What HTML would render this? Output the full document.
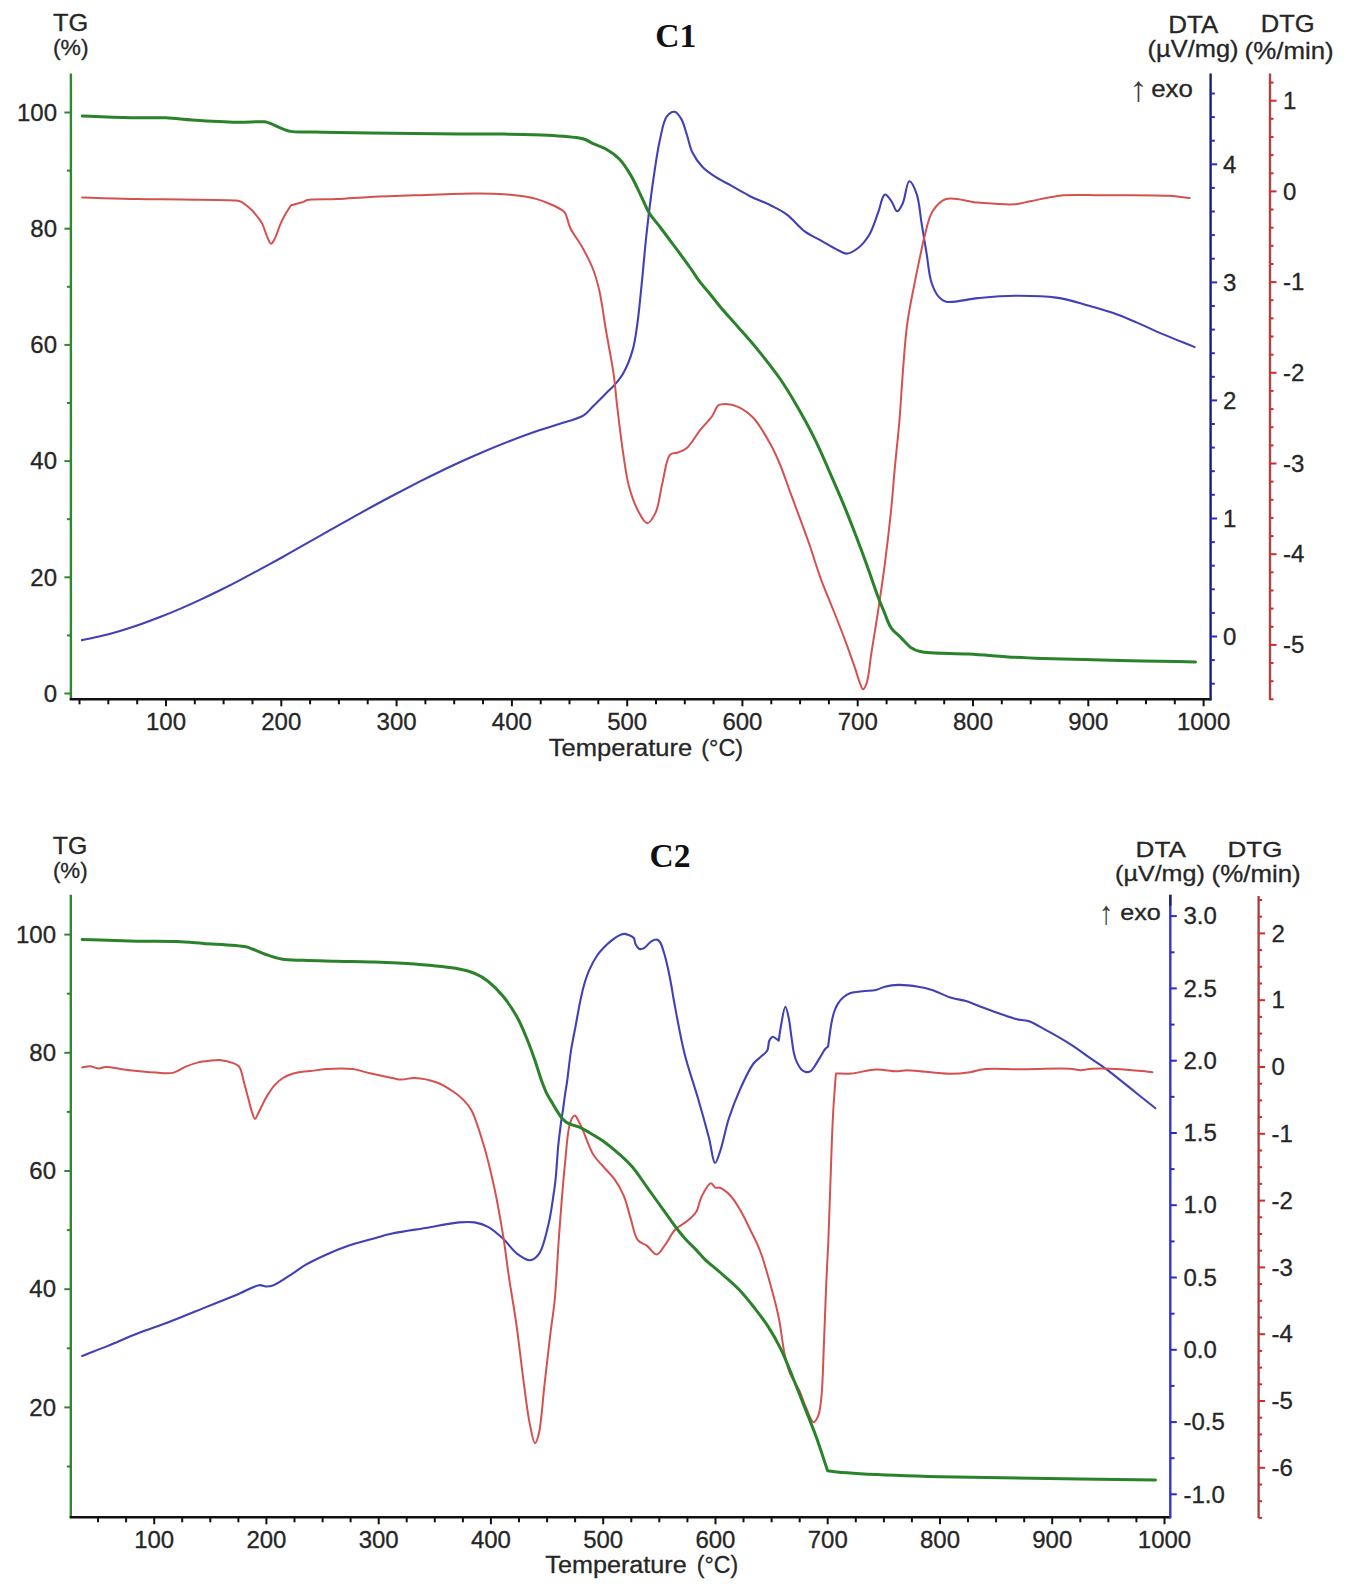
<!DOCTYPE html>
<html><head><meta charset="utf-8"><title>TG/DTA/DTG C1 C2</title>
<style>html,body{margin:0;padding:0;background:#fff;}svg{display:block;}</style></head>
<body><svg width="1348" height="1592" viewBox="0 0 1348 1592" font-family="'Liberation Sans', Arial, sans-serif">
<rect width="1348" height="1592" fill="#fff"/>
<line x1="70.9" y1="73.6" x2="70.9" y2="699.3" stroke="#318631" stroke-width="2.4"/>
<line x1="64.4" y1="693.5" x2="70.9" y2="693.5" stroke="#318631" stroke-width="2"/>
<text x="57.00" y="701.70" text-anchor="end" font-size="24.00" fill="#262626" stroke="#262626" stroke-width="0.30">0</text>
<line x1="66.9" y1="635.4" x2="70.9" y2="635.4" stroke="#318631" stroke-width="2"/>
<line x1="64.4" y1="577.3" x2="70.9" y2="577.3" stroke="#318631" stroke-width="2"/>
<text x="57.00" y="585.50" text-anchor="end" font-size="24.00" fill="#262626" stroke="#262626" stroke-width="0.30">20</text>
<line x1="66.9" y1="519.2" x2="70.9" y2="519.2" stroke="#318631" stroke-width="2"/>
<line x1="64.4" y1="461.1" x2="70.9" y2="461.1" stroke="#318631" stroke-width="2"/>
<text x="57.00" y="469.30" text-anchor="end" font-size="24.00" fill="#262626" stroke="#262626" stroke-width="0.30">40</text>
<line x1="66.9" y1="403.0" x2="70.9" y2="403.0" stroke="#318631" stroke-width="2"/>
<line x1="64.4" y1="344.9" x2="70.9" y2="344.9" stroke="#318631" stroke-width="2"/>
<text x="57.00" y="353.10" text-anchor="end" font-size="24.00" fill="#262626" stroke="#262626" stroke-width="0.30">60</text>
<line x1="66.9" y1="286.8" x2="70.9" y2="286.8" stroke="#318631" stroke-width="2"/>
<line x1="64.4" y1="228.7" x2="70.9" y2="228.7" stroke="#318631" stroke-width="2"/>
<text x="57.00" y="236.90" text-anchor="end" font-size="24.00" fill="#262626" stroke="#262626" stroke-width="0.30">80</text>
<line x1="66.9" y1="170.6" x2="70.9" y2="170.6" stroke="#318631" stroke-width="2"/>
<line x1="64.4" y1="112.5" x2="70.9" y2="112.5" stroke="#318631" stroke-width="2"/>
<text x="57.00" y="120.70" text-anchor="end" font-size="24.00" fill="#262626" stroke="#262626" stroke-width="0.30">100</text>
<line x1="69.7" y1="699.3" x2="1210.6" y2="699.3" stroke="#111" stroke-width="2.6"/>
<line x1="79.5" y1="699.3" x2="79.5" y2="704.3" stroke="#111" stroke-width="2"/>
<line x1="108.3" y1="699.3" x2="108.3" y2="704.3" stroke="#111" stroke-width="2"/>
<line x1="137.2" y1="699.3" x2="137.2" y2="704.3" stroke="#111" stroke-width="2"/>
<line x1="166.0" y1="699.3" x2="166.0" y2="706.3" stroke="#111" stroke-width="2"/>
<text x="165.99" y="730.00" text-anchor="middle" font-size="24.00" fill="#262626" stroke="#262626" stroke-width="0.30">100</text>
<line x1="194.8" y1="699.3" x2="194.8" y2="704.3" stroke="#111" stroke-width="2"/>
<line x1="223.6" y1="699.3" x2="223.6" y2="704.3" stroke="#111" stroke-width="2"/>
<line x1="252.5" y1="699.3" x2="252.5" y2="704.3" stroke="#111" stroke-width="2"/>
<line x1="281.3" y1="699.3" x2="281.3" y2="706.3" stroke="#111" stroke-width="2"/>
<text x="281.28" y="730.00" text-anchor="middle" font-size="24.00" fill="#262626" stroke="#262626" stroke-width="0.30">200</text>
<line x1="310.1" y1="699.3" x2="310.1" y2="704.3" stroke="#111" stroke-width="2"/>
<line x1="338.9" y1="699.3" x2="338.9" y2="704.3" stroke="#111" stroke-width="2"/>
<line x1="367.7" y1="699.3" x2="367.7" y2="704.3" stroke="#111" stroke-width="2"/>
<line x1="396.6" y1="699.3" x2="396.6" y2="706.3" stroke="#111" stroke-width="2"/>
<text x="396.57" y="730.00" text-anchor="middle" font-size="24.00" fill="#262626" stroke="#262626" stroke-width="0.30">300</text>
<line x1="425.4" y1="699.3" x2="425.4" y2="704.3" stroke="#111" stroke-width="2"/>
<line x1="454.2" y1="699.3" x2="454.2" y2="704.3" stroke="#111" stroke-width="2"/>
<line x1="483.0" y1="699.3" x2="483.0" y2="704.3" stroke="#111" stroke-width="2"/>
<line x1="511.9" y1="699.3" x2="511.9" y2="706.3" stroke="#111" stroke-width="2"/>
<text x="511.86" y="730.00" text-anchor="middle" font-size="24.00" fill="#262626" stroke="#262626" stroke-width="0.30">400</text>
<line x1="540.7" y1="699.3" x2="540.7" y2="704.3" stroke="#111" stroke-width="2"/>
<line x1="569.5" y1="699.3" x2="569.5" y2="704.3" stroke="#111" stroke-width="2"/>
<line x1="598.3" y1="699.3" x2="598.3" y2="704.3" stroke="#111" stroke-width="2"/>
<line x1="627.2" y1="699.3" x2="627.2" y2="706.3" stroke="#111" stroke-width="2"/>
<text x="627.15" y="730.00" text-anchor="middle" font-size="24.00" fill="#262626" stroke="#262626" stroke-width="0.30">500</text>
<line x1="656.0" y1="699.3" x2="656.0" y2="704.3" stroke="#111" stroke-width="2"/>
<line x1="684.8" y1="699.3" x2="684.8" y2="704.3" stroke="#111" stroke-width="2"/>
<line x1="713.6" y1="699.3" x2="713.6" y2="704.3" stroke="#111" stroke-width="2"/>
<line x1="742.4" y1="699.3" x2="742.4" y2="706.3" stroke="#111" stroke-width="2"/>
<text x="742.44" y="730.00" text-anchor="middle" font-size="24.00" fill="#262626" stroke="#262626" stroke-width="0.30">600</text>
<line x1="771.3" y1="699.3" x2="771.3" y2="704.3" stroke="#111" stroke-width="2"/>
<line x1="800.1" y1="699.3" x2="800.1" y2="704.3" stroke="#111" stroke-width="2"/>
<line x1="828.9" y1="699.3" x2="828.9" y2="704.3" stroke="#111" stroke-width="2"/>
<line x1="857.7" y1="699.3" x2="857.7" y2="706.3" stroke="#111" stroke-width="2"/>
<text x="857.73" y="730.00" text-anchor="middle" font-size="24.00" fill="#262626" stroke="#262626" stroke-width="0.30">700</text>
<line x1="886.6" y1="699.3" x2="886.6" y2="704.3" stroke="#111" stroke-width="2"/>
<line x1="915.4" y1="699.3" x2="915.4" y2="704.3" stroke="#111" stroke-width="2"/>
<line x1="944.2" y1="699.3" x2="944.2" y2="704.3" stroke="#111" stroke-width="2"/>
<line x1="973.0" y1="699.3" x2="973.0" y2="706.3" stroke="#111" stroke-width="2"/>
<text x="973.02" y="730.00" text-anchor="middle" font-size="24.00" fill="#262626" stroke="#262626" stroke-width="0.30">800</text>
<line x1="1001.8" y1="699.3" x2="1001.8" y2="704.3" stroke="#111" stroke-width="2"/>
<line x1="1030.7" y1="699.3" x2="1030.7" y2="704.3" stroke="#111" stroke-width="2"/>
<line x1="1059.5" y1="699.3" x2="1059.5" y2="704.3" stroke="#111" stroke-width="2"/>
<line x1="1088.3" y1="699.3" x2="1088.3" y2="706.3" stroke="#111" stroke-width="2"/>
<text x="1088.31" y="730.00" text-anchor="middle" font-size="24.00" fill="#262626" stroke="#262626" stroke-width="0.30">900</text>
<line x1="1117.1" y1="699.3" x2="1117.1" y2="704.3" stroke="#111" stroke-width="2"/>
<line x1="1146.0" y1="699.3" x2="1146.0" y2="704.3" stroke="#111" stroke-width="2"/>
<line x1="1174.8" y1="699.3" x2="1174.8" y2="704.3" stroke="#111" stroke-width="2"/>
<line x1="1203.6" y1="699.3" x2="1203.6" y2="706.3" stroke="#111" stroke-width="2"/>
<text x="1203.60" y="730.00" text-anchor="middle" font-size="24.00" fill="#262626" stroke="#262626" stroke-width="0.30">1000</text>
<text x="548.84" y="755.60" text-anchor="start" font-size="24.57" fill="#262626" stroke="#262626" stroke-width="0.30" textLength="143.4" lengthAdjust="spacingAndGlyphs">Temperature</text>
<text x="701.25" y="755.63" text-anchor="start" font-size="24.47" fill="#262626" stroke="#262626" stroke-width="0.30" textLength="41.8" lengthAdjust="spacingAndGlyphs">(°C)</text>
<line x1="1210.6" y1="73.6" x2="1210.6" y2="700.5" stroke="#1c1c7c" stroke-width="2.4"/>
<line x1="1210.6" y1="683.7" x2="1214.8" y2="683.7" stroke="#2a2ad0" stroke-width="2"/>
<line x1="1210.6" y1="660.1" x2="1214.8" y2="660.1" stroke="#2a2ad0" stroke-width="2"/>
<line x1="1210.6" y1="636.5" x2="1217.1" y2="636.5" stroke="#2a2ad0" stroke-width="2"/>
<text x="1223.00" y="644.70" text-anchor="start" font-size="24.00" fill="#262626" stroke="#262626" stroke-width="0.30">0</text>
<line x1="1210.6" y1="612.9" x2="1214.8" y2="612.9" stroke="#2a2ad0" stroke-width="2"/>
<line x1="1210.6" y1="589.3" x2="1214.8" y2="589.3" stroke="#2a2ad0" stroke-width="2"/>
<line x1="1210.6" y1="565.7" x2="1214.8" y2="565.7" stroke="#2a2ad0" stroke-width="2"/>
<line x1="1210.6" y1="542.1" x2="1214.8" y2="542.1" stroke="#2a2ad0" stroke-width="2"/>
<line x1="1210.6" y1="518.5" x2="1217.1" y2="518.5" stroke="#2a2ad0" stroke-width="2"/>
<text x="1223.00" y="526.65" text-anchor="start" font-size="24.00" fill="#262626" stroke="#262626" stroke-width="0.30">1</text>
<line x1="1210.6" y1="494.8" x2="1214.8" y2="494.8" stroke="#2a2ad0" stroke-width="2"/>
<line x1="1210.6" y1="471.2" x2="1214.8" y2="471.2" stroke="#2a2ad0" stroke-width="2"/>
<line x1="1210.6" y1="447.6" x2="1214.8" y2="447.6" stroke="#2a2ad0" stroke-width="2"/>
<line x1="1210.6" y1="424.0" x2="1214.8" y2="424.0" stroke="#2a2ad0" stroke-width="2"/>
<line x1="1210.6" y1="400.4" x2="1217.1" y2="400.4" stroke="#2a2ad0" stroke-width="2"/>
<text x="1223.00" y="408.60" text-anchor="start" font-size="24.00" fill="#262626" stroke="#262626" stroke-width="0.30">2</text>
<line x1="1210.6" y1="376.8" x2="1214.8" y2="376.8" stroke="#2a2ad0" stroke-width="2"/>
<line x1="1210.6" y1="353.2" x2="1214.8" y2="353.2" stroke="#2a2ad0" stroke-width="2"/>
<line x1="1210.6" y1="329.6" x2="1214.8" y2="329.6" stroke="#2a2ad0" stroke-width="2"/>
<line x1="1210.6" y1="306.0" x2="1214.8" y2="306.0" stroke="#2a2ad0" stroke-width="2"/>
<line x1="1210.6" y1="282.4" x2="1217.1" y2="282.4" stroke="#2a2ad0" stroke-width="2"/>
<text x="1223.00" y="290.55" text-anchor="start" font-size="24.00" fill="#262626" stroke="#262626" stroke-width="0.30">3</text>
<line x1="1210.6" y1="258.7" x2="1214.8" y2="258.7" stroke="#2a2ad0" stroke-width="2"/>
<line x1="1210.6" y1="235.1" x2="1214.8" y2="235.1" stroke="#2a2ad0" stroke-width="2"/>
<line x1="1210.6" y1="211.5" x2="1214.8" y2="211.5" stroke="#2a2ad0" stroke-width="2"/>
<line x1="1210.6" y1="187.9" x2="1214.8" y2="187.9" stroke="#2a2ad0" stroke-width="2"/>
<line x1="1210.6" y1="164.3" x2="1217.1" y2="164.3" stroke="#2a2ad0" stroke-width="2"/>
<text x="1223.00" y="172.50" text-anchor="start" font-size="24.00" fill="#262626" stroke="#262626" stroke-width="0.30">4</text>
<line x1="1210.6" y1="140.7" x2="1214.8" y2="140.7" stroke="#2a2ad0" stroke-width="2"/>
<line x1="1210.6" y1="117.1" x2="1214.8" y2="117.1" stroke="#2a2ad0" stroke-width="2"/>
<line x1="1210.6" y1="93.5" x2="1214.8" y2="93.5" stroke="#2a2ad0" stroke-width="2"/>
<line x1="1270.0" y1="73.6" x2="1270.0" y2="700.0" stroke="#a84646" stroke-width="2.4"/>
<line x1="1270.0" y1="82.6" x2="1273.5" y2="82.6" stroke="#d42a2a" stroke-width="2"/>
<line x1="1270.0" y1="100.7" x2="1276.5" y2="100.7" stroke="#d42a2a" stroke-width="2"/>
<text x="1283.00" y="108.90" text-anchor="start" font-size="24.00" fill="#262626" stroke="#262626" stroke-width="0.30">1</text>
<line x1="1270.0" y1="118.8" x2="1273.5" y2="118.8" stroke="#d42a2a" stroke-width="2"/>
<line x1="1270.0" y1="137.0" x2="1273.5" y2="137.0" stroke="#d42a2a" stroke-width="2"/>
<line x1="1270.0" y1="155.1" x2="1273.5" y2="155.1" stroke="#d42a2a" stroke-width="2"/>
<line x1="1270.0" y1="173.3" x2="1273.5" y2="173.3" stroke="#d42a2a" stroke-width="2"/>
<line x1="1270.0" y1="191.4" x2="1276.5" y2="191.4" stroke="#d42a2a" stroke-width="2"/>
<text x="1283.00" y="199.60" text-anchor="start" font-size="24.00" fill="#262626" stroke="#262626" stroke-width="0.30">0</text>
<line x1="1270.0" y1="209.5" x2="1273.5" y2="209.5" stroke="#d42a2a" stroke-width="2"/>
<line x1="1270.0" y1="227.7" x2="1273.5" y2="227.7" stroke="#d42a2a" stroke-width="2"/>
<line x1="1270.0" y1="245.8" x2="1273.5" y2="245.8" stroke="#d42a2a" stroke-width="2"/>
<line x1="1270.0" y1="264.0" x2="1273.5" y2="264.0" stroke="#d42a2a" stroke-width="2"/>
<line x1="1270.0" y1="282.1" x2="1276.5" y2="282.1" stroke="#d42a2a" stroke-width="2"/>
<text x="1283.00" y="290.30" text-anchor="start" font-size="24.00" fill="#262626" stroke="#262626" stroke-width="0.30">-1</text>
<line x1="1270.0" y1="300.2" x2="1273.5" y2="300.2" stroke="#d42a2a" stroke-width="2"/>
<line x1="1270.0" y1="318.4" x2="1273.5" y2="318.4" stroke="#d42a2a" stroke-width="2"/>
<line x1="1270.0" y1="336.5" x2="1273.5" y2="336.5" stroke="#d42a2a" stroke-width="2"/>
<line x1="1270.0" y1="354.7" x2="1273.5" y2="354.7" stroke="#d42a2a" stroke-width="2"/>
<line x1="1270.0" y1="372.8" x2="1276.5" y2="372.8" stroke="#d42a2a" stroke-width="2"/>
<text x="1283.00" y="381.00" text-anchor="start" font-size="24.00" fill="#262626" stroke="#262626" stroke-width="0.30">-2</text>
<line x1="1270.0" y1="390.9" x2="1273.5" y2="390.9" stroke="#d42a2a" stroke-width="2"/>
<line x1="1270.0" y1="409.1" x2="1273.5" y2="409.1" stroke="#d42a2a" stroke-width="2"/>
<line x1="1270.0" y1="427.2" x2="1273.5" y2="427.2" stroke="#d42a2a" stroke-width="2"/>
<line x1="1270.0" y1="445.4" x2="1273.5" y2="445.4" stroke="#d42a2a" stroke-width="2"/>
<line x1="1270.0" y1="463.5" x2="1276.5" y2="463.5" stroke="#d42a2a" stroke-width="2"/>
<text x="1283.00" y="471.70" text-anchor="start" font-size="24.00" fill="#262626" stroke="#262626" stroke-width="0.30">-3</text>
<line x1="1270.0" y1="481.6" x2="1273.5" y2="481.6" stroke="#d42a2a" stroke-width="2"/>
<line x1="1270.0" y1="499.8" x2="1273.5" y2="499.8" stroke="#d42a2a" stroke-width="2"/>
<line x1="1270.0" y1="517.9" x2="1273.5" y2="517.9" stroke="#d42a2a" stroke-width="2"/>
<line x1="1270.0" y1="536.1" x2="1273.5" y2="536.1" stroke="#d42a2a" stroke-width="2"/>
<line x1="1270.0" y1="554.2" x2="1276.5" y2="554.2" stroke="#d42a2a" stroke-width="2"/>
<text x="1283.00" y="562.40" text-anchor="start" font-size="24.00" fill="#262626" stroke="#262626" stroke-width="0.30">-4</text>
<line x1="1270.0" y1="572.3" x2="1273.5" y2="572.3" stroke="#d42a2a" stroke-width="2"/>
<line x1="1270.0" y1="590.5" x2="1273.5" y2="590.5" stroke="#d42a2a" stroke-width="2"/>
<line x1="1270.0" y1="608.6" x2="1273.5" y2="608.6" stroke="#d42a2a" stroke-width="2"/>
<line x1="1270.0" y1="626.8" x2="1273.5" y2="626.8" stroke="#d42a2a" stroke-width="2"/>
<line x1="1270.0" y1="644.9" x2="1276.5" y2="644.9" stroke="#d42a2a" stroke-width="2"/>
<text x="1283.00" y="653.10" text-anchor="start" font-size="24.00" fill="#262626" stroke="#262626" stroke-width="0.30">-5</text>
<line x1="1270.0" y1="663.0" x2="1273.5" y2="663.0" stroke="#d42a2a" stroke-width="2"/>
<line x1="1270.0" y1="681.2" x2="1273.5" y2="681.2" stroke="#d42a2a" stroke-width="2"/>
<line x1="1270.0" y1="699.3" x2="1273.5" y2="699.3" stroke="#d42a2a" stroke-width="2"/>
<text x="53.13" y="31.07" text-anchor="start" font-size="23.45" fill="#262626" stroke="#262626" stroke-width="0.30" textLength="35.2" lengthAdjust="spacingAndGlyphs">TG</text>
<text x="52.98" y="55.47" text-anchor="start" font-size="22.86" fill="#262626" stroke="#262626" stroke-width="0.30" textLength="35.6" lengthAdjust="spacingAndGlyphs">(%)</text>
<text x="1168.25" y="32.70" text-anchor="start" font-size="24.71" fill="#262626" stroke="#262626" stroke-width="0.30" textLength="50.0" lengthAdjust="spacingAndGlyphs">DTA</text>
<text x="1147.62" y="57.30" text-anchor="start" font-size="23.60" fill="#262626" stroke="#262626" stroke-width="0.30" textLength="90.9" lengthAdjust="spacingAndGlyphs">(µV/mg)</text>
<text x="1260.81" y="32.46" text-anchor="start" font-size="24.58" fill="#262626" stroke="#262626" stroke-width="0.30" textLength="53.9" lengthAdjust="spacingAndGlyphs">DTG</text>
<text x="1244.60" y="58.63" text-anchor="start" font-size="24.47" fill="#262626" stroke="#262626" stroke-width="0.30" textLength="89.1" lengthAdjust="spacingAndGlyphs">(%/min)</text>
<text x="1151.20" y="96.67" text-anchor="start" font-size="23.18" fill="#262626" stroke="#262626" stroke-width="0.30" textLength="41.7" lengthAdjust="spacingAndGlyphs">exo</text>
<text x="1129.33" y="100.95" font-size="35.15" fill="#3c3c3c" textLength="18.35" lengthAdjust="spacingAndGlyphs">↑</text>
<text x="655.36" y="46.87" font-family="'Liberation Serif', 'Times New Roman', serif" font-weight="bold" font-size="33.64" fill="#111" textLength="41.08" lengthAdjust="spacingAndGlyphs">C1</text>
<path d="M81.9,640.1 C87.9,638.8 93.8,637.8 100.0,636.3 C106.5,634.7 113.4,632.9 120.0,630.9 C126.7,628.9 133.4,626.8 140.0,624.5 C146.7,622.2 153.4,619.7 160.0,617.1 C166.7,614.5 173.4,611.8 180.0,608.9 C186.7,606.0 193.4,603.0 200.0,599.9 C206.7,596.8 213.4,593.6 220.0,590.3 C226.7,587.0 233.4,583.6 240.0,580.1 C246.7,576.6 253.3,573.0 260.0,569.4 C266.7,565.8 273.3,562.2 280.0,558.5 C286.7,554.8 292.7,551.4 300.0,547.2 C309.0,542.1 320.0,535.9 330.0,530.2 C340.0,524.6 350.0,518.8 360.0,513.3 C370.0,507.8 380.0,502.3 390.0,497.0 C400.0,491.7 410.0,486.5 420.0,481.4 C430.0,476.4 440.0,471.4 450.0,466.7 C460.0,462.0 470.0,457.5 480.0,453.2 C490.0,448.9 500.0,444.8 510.0,440.9 C520.0,437.1 531.1,433.0 540.0,430.0 C547.1,427.6 552.4,426.3 559.2,424.0 C566.9,421.4 577.8,418.9 583.7,415.3 C587.7,412.8 589.4,410.0 592.6,406.8 C596.6,402.9 601.9,397.5 605.9,393.5 C609.2,390.2 612.0,387.9 614.8,384.6 C617.9,381.0 621.0,377.3 623.7,372.4 C627.1,366.3 630.4,357.8 632.6,350.1 C634.9,342.2 635.8,334.6 637.1,325.6 C638.7,314.9 639.7,303.3 641.1,290.0 C642.9,273.1 644.6,251.2 646.7,232.4 C648.7,214.2 651.0,195.5 653.4,179.0 C655.5,164.7 657.5,150.3 660.1,139.0 C662.1,130.4 663.3,121.2 666.7,116.7 C668.8,113.9 672.1,111.5 674.5,111.8 C677.0,112.1 679.3,115.8 681.2,118.9 C683.7,122.9 685.0,129.1 686.8,134.5 C688.7,140.2 689.7,146.9 692.3,152.3 C694.9,157.6 698.5,162.8 702.3,166.8 C705.7,170.4 709.2,172.8 713.5,175.7 C718.6,179.1 725.4,182.4 731.3,185.7 C737.2,189.0 742.8,192.5 749.1,195.7 C756.0,199.2 764.6,202.3 771.3,205.7 C777.0,208.6 781.8,210.8 786.9,214.6 C792.9,219.0 798.7,226.9 804.7,231.3 C809.8,235.1 814.9,237.2 820.3,240.2 C826.0,243.4 833.1,247.9 838.1,250.2 C841.5,251.8 843.9,253.8 847.0,253.6 C850.5,253.4 854.6,250.7 858.1,248.0 C862.2,244.8 866.1,240.0 869.3,234.7 C873.0,228.5 875.5,219.4 878.2,212.4 C880.6,206.1 882.0,195.2 884.8,194.6 C886.8,194.2 889.5,198.7 891.5,201.3 C893.7,204.2 895.1,211.2 897.1,211.3 C898.9,211.4 901.0,206.9 902.7,203.5 C905.3,198.1 906.6,181.6 909.3,181.3 C911.5,181.0 914.8,188.7 916.7,194.1 C919.4,201.7 920.0,213.6 921.6,223.4 C923.2,233.2 924.9,243.0 926.5,252.8 C928.1,262.6 928.8,274.2 931.4,282.2 C933.3,288.1 935.8,293.5 938.8,296.9 C941.0,299.4 942.6,301.0 946.1,301.8 C952.8,303.4 966.9,299.1 977.9,298.1 C989.7,297.0 1002.0,295.8 1014.6,295.7 C1028.1,295.6 1043.4,295.7 1056.3,297.6 C1067.7,299.2 1078.2,302.7 1088.1,305.4 C1096.8,307.8 1104.5,310.0 1112.6,312.8 C1120.8,315.7 1128.9,319.2 1137.0,322.6 C1145.2,326.1 1152.7,329.8 1161.5,333.6 C1171.7,338.0 1183.6,342.6 1194.6,347.1" fill="none" stroke="#4040b8" stroke-width="2.1" stroke-linejoin="round" stroke-linecap="round"/>
<path d="M82.2,197.5 C100.4,198.0 119.5,198.8 136.8,199.1 C152.4,199.4 165.7,199.3 181.3,199.5 C198.7,199.8 227.9,199.5 236.3,200.6 C238.8,200.9 239.6,201.1 241.2,201.8 C243.0,202.6 244.7,204.1 246.5,205.5 C248.5,207.1 250.8,209.0 252.7,211.0 C254.6,213.0 256.4,215.3 258.0,217.5 C259.6,219.7 261.0,221.4 262.4,224.1 C264.2,227.6 265.6,233.5 267.3,237.1 C268.5,239.7 269.7,243.6 271.0,243.7 C272.2,243.8 273.5,241.0 274.7,238.8 C276.6,235.3 278.5,228.5 280.4,224.1 C282.0,220.5 283.5,217.5 285.3,214.3 C287.1,211.2 289.1,208.3 291.0,205.3 C293.5,204.6 296.1,204.0 298.4,203.3 C300.4,202.7 302.6,202.2 304.1,201.6 C305.1,201.2 305.2,200.6 306.5,200.2 C310.9,198.9 326.7,199.6 337.1,199.1 C347.9,198.6 358.2,197.6 370.0,197.0 C383.7,196.3 398.6,195.8 414.5,195.3 C433.0,194.7 458.2,193.5 474.6,193.5 C486.0,193.5 493.5,193.4 503.5,194.2 C514.3,195.1 526.6,196.1 536.9,199.1 C546.5,201.9 559.7,208.0 563.6,211.3 C565.0,212.5 565.1,213.1 565.9,214.6 C567.3,217.5 568.1,223.4 570.3,228.0 C572.9,233.7 577.8,239.5 581.4,245.8 C585.3,252.7 589.6,260.5 592.6,268.0 C595.5,275.2 597.2,281.5 599.2,290.0 C601.8,301.3 603.6,316.3 605.9,330.0 C608.4,344.5 611.8,361.0 613.7,374.6 C615.3,385.9 615.7,394.1 617.1,405.7 C618.9,420.7 621.4,442.3 623.7,456.9 C625.4,468.0 626.4,476.8 628.9,485.9 C631.2,494.5 634.3,503.7 637.8,510.3 C640.6,515.5 644.1,523.1 647.2,523.2 C650.0,523.3 653.3,517.3 655.6,512.6 C659.0,505.6 659.9,493.2 662.3,483.6 C664.7,473.9 665.9,458.9 670.1,454.7 C672.3,452.5 675.3,453.5 677.9,452.5 C680.8,451.4 683.8,450.5 686.8,448.0 C691.2,444.3 695.7,435.8 700.1,430.2 C704.2,425.1 709.3,420.2 712.4,415.7 C714.8,412.2 715.4,407.6 717.9,405.7 C720.0,404.1 722.8,404.0 725.7,404.0 C729.3,404.0 733.9,404.9 738.0,406.8 C743.1,409.1 748.6,412.8 753.5,418.0 C759.9,424.8 766.6,437.3 771.3,445.8 C775.0,452.5 777.2,457.7 780.0,464.5 C783.3,472.3 786.6,482.4 789.5,490.3 C792.0,496.9 793.7,501.5 796.3,508.6 C800.0,518.6 805.3,532.6 809.4,544.5 C813.4,556.0 816.7,567.6 820.8,578.8 C824.9,589.9 829.7,600.9 833.9,611.5 C837.9,621.5 841.7,631.2 845.3,640.9 C848.8,650.2 852.5,660.8 855.2,668.6 C857.1,674.3 858.4,679.5 860.0,683.3 C861.0,685.8 861.9,689.3 863.0,689.3 C864.1,689.3 865.5,686.2 866.6,683.3 C868.9,677.1 869.7,663.3 871.5,652.3 C873.5,639.6 875.9,625.5 878.0,611.5 C880.2,596.7 882.5,581.8 884.6,565.8 C886.9,548.2 889.4,526.9 891.1,510.2 C892.5,496.5 893.3,484.8 894.4,472.7 C895.4,461.4 896.7,449.1 897.6,440.0 C898.2,433.6 898.5,431.3 899.2,423.5 C900.9,404.6 903.6,351.9 906.9,326.3 C909.1,309.4 911.9,297.1 914.3,284.6 C916.3,274.4 918.2,265.2 920.0,256.9 C921.5,250.0 922.3,244.9 924.1,238.1 C926.3,229.9 928.2,218.0 932.6,211.2 C936.1,205.7 940.1,200.9 946.1,199.0 C954.1,196.4 966.9,201.7 977.9,202.6 C989.7,203.5 1004.7,205.0 1014.6,204.3 C1021.4,203.8 1025.2,202.1 1031.8,200.9 C1040.8,199.2 1052.6,196.3 1063.6,195.3 C1075.4,194.3 1086.2,195.2 1100.3,195.3 C1119.6,195.4 1152.7,194.9 1168.9,195.8 C1177.9,196.3 1182.8,197.3 1189.7,198.0" fill="none" stroke="#d65050" stroke-width="2.0" stroke-linejoin="round" stroke-linecap="round"/>
<path d="M82.2,116.0 C100.4,116.6 121.5,117.5 136.8,117.8 C148.0,118.0 156.3,117.4 165.7,117.8 C174.8,118.2 182.4,119.3 192.4,120.0 C205.3,120.9 223.8,122.1 236.9,122.3 C247.2,122.5 259.0,121.1 264.7,121.8 C267.3,122.1 267.9,122.6 270.3,123.4 C274.9,125.0 283.2,129.9 290.3,131.4 C297.9,132.9 306.8,131.7 314.8,131.9 C322.4,132.1 328.9,132.3 337.1,132.5 C347.0,132.7 357.1,132.8 370.0,133.0 C388.4,133.2 414.5,133.6 436.8,133.8 C459.0,134.0 483.5,133.8 503.5,134.1 C519.9,134.3 534.1,134.3 548.1,135.2 C560.7,136.0 575.9,136.7 583.7,139.0 C587.8,140.2 589.3,141.9 592.6,143.4 C596.6,145.2 601.6,146.5 605.9,149.0 C610.5,151.6 615.3,154.9 619.3,159.0 C623.6,163.4 626.9,168.8 630.4,174.6 C634.4,181.2 638.2,190.0 641.5,196.8 C644.2,202.4 645.9,207.4 648.9,212.4 C652.0,217.5 656.2,221.9 660.0,227.0 C664.2,232.5 668.4,238.2 673.0,244.4 C678.3,251.5 685.1,260.6 690.0,267.5 C693.9,272.9 696.6,277.6 700.1,282.2 C703.4,286.5 706.9,290.1 710.2,294.2 C713.6,298.3 716.8,302.7 720.2,306.8 C723.5,310.8 727.0,314.6 730.3,318.3 C733.4,321.8 735.8,324.4 739.3,328.4 C744.4,334.2 751.6,342.3 758.0,350.1 C765.2,359.0 773.4,369.2 780.2,379.0 C786.8,388.5 792.3,397.9 798.1,408.0 C804.2,418.6 810.2,429.6 815.9,441.3 C822.1,453.9 828.4,469.3 833.7,481.4 C838.0,491.3 841.8,500.1 845.3,508.6 C848.3,516.0 850.8,522.5 853.5,529.5 C856.3,536.6 859.0,543.8 861.7,551.1 C864.5,558.6 867.3,566.4 870.0,574.0 C872.7,581.6 875.4,589.9 878.0,596.8 C880.2,602.7 882.4,607.8 884.6,613.1 C886.7,618.1 888.2,623.6 891.1,627.8 C893.8,631.7 897.6,634.3 900.9,637.6 C904.2,640.9 907.2,645.0 910.7,647.4 C913.7,649.4 915.5,650.4 920.0,651.5 C929.8,653.8 952.9,653.0 969.0,654.0 C984.6,655.0 1001.6,656.5 1015.0,657.3 C1025.4,657.9 1032.5,658.2 1042.6,658.6 C1055.0,659.0 1069.1,659.3 1084.0,659.6 C1101.6,660.0 1122.6,660.5 1141.5,660.9 C1159.8,661.3 1177.5,661.6 1195.5,661.9" fill="none" stroke="#2a822a" stroke-width="3.0" stroke-linejoin="round" stroke-linecap="round"/>
<line x1="70.8" y1="894.8" x2="70.8" y2="1517.3" stroke="#318631" stroke-width="2.4"/>
<line x1="66.8" y1="1466.5" x2="70.8" y2="1466.5" stroke="#318631" stroke-width="2"/>
<line x1="64.3" y1="1407.4" x2="70.8" y2="1407.4" stroke="#318631" stroke-width="2"/>
<text x="56.00" y="1415.60" text-anchor="end" font-size="24.00" fill="#262626" stroke="#262626" stroke-width="0.30">20</text>
<line x1="66.8" y1="1348.3" x2="70.8" y2="1348.3" stroke="#318631" stroke-width="2"/>
<line x1="64.3" y1="1289.2" x2="70.8" y2="1289.2" stroke="#318631" stroke-width="2"/>
<text x="56.00" y="1297.40" text-anchor="end" font-size="24.00" fill="#262626" stroke="#262626" stroke-width="0.30">40</text>
<line x1="66.8" y1="1230.1" x2="70.8" y2="1230.1" stroke="#318631" stroke-width="2"/>
<line x1="64.3" y1="1171.0" x2="70.8" y2="1171.0" stroke="#318631" stroke-width="2"/>
<text x="56.00" y="1179.20" text-anchor="end" font-size="24.00" fill="#262626" stroke="#262626" stroke-width="0.30">60</text>
<line x1="66.8" y1="1111.9" x2="70.8" y2="1111.9" stroke="#318631" stroke-width="2"/>
<line x1="64.3" y1="1052.8" x2="70.8" y2="1052.8" stroke="#318631" stroke-width="2"/>
<text x="56.00" y="1061.00" text-anchor="end" font-size="24.00" fill="#262626" stroke="#262626" stroke-width="0.30">80</text>
<line x1="66.8" y1="993.7" x2="70.8" y2="993.7" stroke="#318631" stroke-width="2"/>
<line x1="64.3" y1="934.6" x2="70.8" y2="934.6" stroke="#318631" stroke-width="2"/>
<text x="56.00" y="942.80" text-anchor="end" font-size="24.00" fill="#262626" stroke="#262626" stroke-width="0.30">100</text>
<line x1="69.6" y1="1517.3" x2="1170.3" y2="1517.3" stroke="#111" stroke-width="2.6"/>
<line x1="98.0" y1="1517.3" x2="98.0" y2="1522.3" stroke="#111" stroke-width="2"/>
<line x1="126.1" y1="1517.3" x2="126.1" y2="1522.3" stroke="#111" stroke-width="2"/>
<line x1="154.2" y1="1517.3" x2="154.2" y2="1524.3" stroke="#111" stroke-width="2"/>
<text x="154.16" y="1548.00" text-anchor="middle" font-size="24.00" fill="#262626" stroke="#262626" stroke-width="0.30">100</text>
<line x1="182.2" y1="1517.3" x2="182.2" y2="1522.3" stroke="#111" stroke-width="2"/>
<line x1="210.3" y1="1517.3" x2="210.3" y2="1522.3" stroke="#111" stroke-width="2"/>
<line x1="238.4" y1="1517.3" x2="238.4" y2="1522.3" stroke="#111" stroke-width="2"/>
<line x1="266.4" y1="1517.3" x2="266.4" y2="1524.3" stroke="#111" stroke-width="2"/>
<text x="266.42" y="1548.00" text-anchor="middle" font-size="24.00" fill="#262626" stroke="#262626" stroke-width="0.30">200</text>
<line x1="294.5" y1="1517.3" x2="294.5" y2="1522.3" stroke="#111" stroke-width="2"/>
<line x1="322.6" y1="1517.3" x2="322.6" y2="1522.3" stroke="#111" stroke-width="2"/>
<line x1="350.6" y1="1517.3" x2="350.6" y2="1522.3" stroke="#111" stroke-width="2"/>
<line x1="378.7" y1="1517.3" x2="378.7" y2="1524.3" stroke="#111" stroke-width="2"/>
<text x="378.68" y="1548.00" text-anchor="middle" font-size="24.00" fill="#262626" stroke="#262626" stroke-width="0.30">300</text>
<line x1="406.7" y1="1517.3" x2="406.7" y2="1522.3" stroke="#111" stroke-width="2"/>
<line x1="434.8" y1="1517.3" x2="434.8" y2="1522.3" stroke="#111" stroke-width="2"/>
<line x1="462.9" y1="1517.3" x2="462.9" y2="1522.3" stroke="#111" stroke-width="2"/>
<line x1="490.9" y1="1517.3" x2="490.9" y2="1524.3" stroke="#111" stroke-width="2"/>
<text x="490.94" y="1548.00" text-anchor="middle" font-size="24.00" fill="#262626" stroke="#262626" stroke-width="0.30">400</text>
<line x1="519.0" y1="1517.3" x2="519.0" y2="1522.3" stroke="#111" stroke-width="2"/>
<line x1="547.1" y1="1517.3" x2="547.1" y2="1522.3" stroke="#111" stroke-width="2"/>
<line x1="575.1" y1="1517.3" x2="575.1" y2="1522.3" stroke="#111" stroke-width="2"/>
<line x1="603.2" y1="1517.3" x2="603.2" y2="1524.3" stroke="#111" stroke-width="2"/>
<text x="603.20" y="1548.00" text-anchor="middle" font-size="24.00" fill="#262626" stroke="#262626" stroke-width="0.30">500</text>
<line x1="631.3" y1="1517.3" x2="631.3" y2="1522.3" stroke="#111" stroke-width="2"/>
<line x1="659.3" y1="1517.3" x2="659.3" y2="1522.3" stroke="#111" stroke-width="2"/>
<line x1="687.4" y1="1517.3" x2="687.4" y2="1522.3" stroke="#111" stroke-width="2"/>
<line x1="715.5" y1="1517.3" x2="715.5" y2="1524.3" stroke="#111" stroke-width="2"/>
<text x="715.46" y="1548.00" text-anchor="middle" font-size="24.00" fill="#262626" stroke="#262626" stroke-width="0.30">600</text>
<line x1="743.5" y1="1517.3" x2="743.5" y2="1522.3" stroke="#111" stroke-width="2"/>
<line x1="771.6" y1="1517.3" x2="771.6" y2="1522.3" stroke="#111" stroke-width="2"/>
<line x1="799.7" y1="1517.3" x2="799.7" y2="1522.3" stroke="#111" stroke-width="2"/>
<line x1="827.7" y1="1517.3" x2="827.7" y2="1524.3" stroke="#111" stroke-width="2"/>
<text x="827.72" y="1548.00" text-anchor="middle" font-size="24.00" fill="#262626" stroke="#262626" stroke-width="0.30">700</text>
<line x1="855.8" y1="1517.3" x2="855.8" y2="1522.3" stroke="#111" stroke-width="2"/>
<line x1="883.9" y1="1517.3" x2="883.9" y2="1522.3" stroke="#111" stroke-width="2"/>
<line x1="911.9" y1="1517.3" x2="911.9" y2="1522.3" stroke="#111" stroke-width="2"/>
<line x1="940.0" y1="1517.3" x2="940.0" y2="1524.3" stroke="#111" stroke-width="2"/>
<text x="939.98" y="1548.00" text-anchor="middle" font-size="24.00" fill="#262626" stroke="#262626" stroke-width="0.30">800</text>
<line x1="968.0" y1="1517.3" x2="968.0" y2="1522.3" stroke="#111" stroke-width="2"/>
<line x1="996.1" y1="1517.3" x2="996.1" y2="1522.3" stroke="#111" stroke-width="2"/>
<line x1="1024.2" y1="1517.3" x2="1024.2" y2="1522.3" stroke="#111" stroke-width="2"/>
<line x1="1052.2" y1="1517.3" x2="1052.2" y2="1524.3" stroke="#111" stroke-width="2"/>
<text x="1052.24" y="1548.00" text-anchor="middle" font-size="24.00" fill="#262626" stroke="#262626" stroke-width="0.30">900</text>
<line x1="1080.3" y1="1517.3" x2="1080.3" y2="1522.3" stroke="#111" stroke-width="2"/>
<line x1="1108.4" y1="1517.3" x2="1108.4" y2="1522.3" stroke="#111" stroke-width="2"/>
<line x1="1136.4" y1="1517.3" x2="1136.4" y2="1522.3" stroke="#111" stroke-width="2"/>
<line x1="1164.5" y1="1517.3" x2="1164.5" y2="1524.3" stroke="#111" stroke-width="2"/>
<text x="1164.50" y="1548.00" text-anchor="middle" font-size="24.00" fill="#262626" stroke="#262626" stroke-width="0.30">1000</text>
<text x="545.35" y="1573.17" text-anchor="start" font-size="24.23" fill="#262626" stroke="#262626" stroke-width="0.30" textLength="141.3" lengthAdjust="spacingAndGlyphs">Temperature</text>
<text x="696.87" y="1573.20" text-anchor="start" font-size="24.15" fill="#262626" stroke="#262626" stroke-width="0.30" textLength="41.3" lengthAdjust="spacingAndGlyphs">(°C)</text>
<line x1="1170.3" y1="894.8" x2="1170.3" y2="1518.5" stroke="#3636cc" stroke-width="2.4"/>
<line x1="1170.3" y1="894.8" x2="1170.3" y2="905.5" stroke="#262650" stroke-width="2.4"/>
<line x1="1170.3" y1="1494.3" x2="1176.8" y2="1494.3" stroke="#2a2ad0" stroke-width="2"/>
<text x="1183.50" y="1502.55" text-anchor="start" font-size="24.00" fill="#262626" stroke="#262626" stroke-width="0.30">-1.0</text>
<line x1="1170.3" y1="1458.2" x2="1174.5" y2="1458.2" stroke="#2a2ad0" stroke-width="2"/>
<line x1="1170.3" y1="1422.1" x2="1176.8" y2="1422.1" stroke="#2a2ad0" stroke-width="2"/>
<text x="1183.50" y="1430.28" text-anchor="start" font-size="24.00" fill="#262626" stroke="#262626" stroke-width="0.30">-0.5</text>
<line x1="1170.3" y1="1385.9" x2="1174.5" y2="1385.9" stroke="#2a2ad0" stroke-width="2"/>
<line x1="1170.3" y1="1349.8" x2="1176.8" y2="1349.8" stroke="#2a2ad0" stroke-width="2"/>
<text x="1183.50" y="1358.00" text-anchor="start" font-size="24.00" fill="#262626" stroke="#262626" stroke-width="0.30">0.0</text>
<line x1="1170.3" y1="1313.7" x2="1174.5" y2="1313.7" stroke="#2a2ad0" stroke-width="2"/>
<line x1="1170.3" y1="1277.5" x2="1176.8" y2="1277.5" stroke="#2a2ad0" stroke-width="2"/>
<text x="1183.50" y="1285.72" text-anchor="start" font-size="24.00" fill="#262626" stroke="#262626" stroke-width="0.30">0.5</text>
<line x1="1170.3" y1="1241.4" x2="1174.5" y2="1241.4" stroke="#2a2ad0" stroke-width="2"/>
<line x1="1170.3" y1="1205.2" x2="1176.8" y2="1205.2" stroke="#2a2ad0" stroke-width="2"/>
<text x="1183.50" y="1213.45" text-anchor="start" font-size="24.00" fill="#262626" stroke="#262626" stroke-width="0.30">1.0</text>
<line x1="1170.3" y1="1169.1" x2="1174.5" y2="1169.1" stroke="#2a2ad0" stroke-width="2"/>
<line x1="1170.3" y1="1133.0" x2="1176.8" y2="1133.0" stroke="#2a2ad0" stroke-width="2"/>
<text x="1183.50" y="1141.17" text-anchor="start" font-size="24.00" fill="#262626" stroke="#262626" stroke-width="0.30">1.5</text>
<line x1="1170.3" y1="1096.8" x2="1174.5" y2="1096.8" stroke="#2a2ad0" stroke-width="2"/>
<line x1="1170.3" y1="1060.7" x2="1176.8" y2="1060.7" stroke="#2a2ad0" stroke-width="2"/>
<text x="1183.50" y="1068.90" text-anchor="start" font-size="24.00" fill="#262626" stroke="#262626" stroke-width="0.30">2.0</text>
<line x1="1170.3" y1="1024.6" x2="1174.5" y2="1024.6" stroke="#2a2ad0" stroke-width="2"/>
<line x1="1170.3" y1="988.4" x2="1176.8" y2="988.4" stroke="#2a2ad0" stroke-width="2"/>
<text x="1183.50" y="996.62" text-anchor="start" font-size="24.00" fill="#262626" stroke="#262626" stroke-width="0.30">2.5</text>
<line x1="1170.3" y1="952.3" x2="1174.5" y2="952.3" stroke="#2a2ad0" stroke-width="2"/>
<line x1="1170.3" y1="916.1" x2="1176.8" y2="916.1" stroke="#2a2ad0" stroke-width="2"/>
<text x="1183.50" y="924.35" text-anchor="start" font-size="24.00" fill="#262626" stroke="#262626" stroke-width="0.30">3.0</text>
<line x1="1258.6" y1="895.9" x2="1258.6" y2="1518.0" stroke="#a84646" stroke-width="2.4"/>
<line x1="1258.6" y1="900.0" x2="1262.1" y2="900.0" stroke="#d42a2a" stroke-width="2"/>
<line x1="1258.6" y1="916.7" x2="1262.1" y2="916.7" stroke="#d42a2a" stroke-width="2"/>
<line x1="1258.6" y1="933.4" x2="1265.1" y2="933.4" stroke="#d42a2a" stroke-width="2"/>
<text x="1271.50" y="941.60" text-anchor="start" font-size="24.00" fill="#262626" stroke="#262626" stroke-width="0.30">2</text>
<line x1="1258.6" y1="950.1" x2="1262.1" y2="950.1" stroke="#d42a2a" stroke-width="2"/>
<line x1="1258.6" y1="966.8" x2="1262.1" y2="966.8" stroke="#d42a2a" stroke-width="2"/>
<line x1="1258.6" y1="983.5" x2="1262.1" y2="983.5" stroke="#d42a2a" stroke-width="2"/>
<line x1="1258.6" y1="1000.2" x2="1265.1" y2="1000.2" stroke="#d42a2a" stroke-width="2"/>
<text x="1271.50" y="1008.40" text-anchor="start" font-size="24.00" fill="#262626" stroke="#262626" stroke-width="0.30">1</text>
<line x1="1258.6" y1="1016.9" x2="1262.1" y2="1016.9" stroke="#d42a2a" stroke-width="2"/>
<line x1="1258.6" y1="1033.6" x2="1262.1" y2="1033.6" stroke="#d42a2a" stroke-width="2"/>
<line x1="1258.6" y1="1050.3" x2="1262.1" y2="1050.3" stroke="#d42a2a" stroke-width="2"/>
<line x1="1258.6" y1="1067.0" x2="1265.1" y2="1067.0" stroke="#d42a2a" stroke-width="2"/>
<text x="1271.50" y="1075.20" text-anchor="start" font-size="24.00" fill="#262626" stroke="#262626" stroke-width="0.30">0</text>
<line x1="1258.6" y1="1083.7" x2="1262.1" y2="1083.7" stroke="#d42a2a" stroke-width="2"/>
<line x1="1258.6" y1="1100.4" x2="1262.1" y2="1100.4" stroke="#d42a2a" stroke-width="2"/>
<line x1="1258.6" y1="1117.1" x2="1262.1" y2="1117.1" stroke="#d42a2a" stroke-width="2"/>
<line x1="1258.6" y1="1133.8" x2="1265.1" y2="1133.8" stroke="#d42a2a" stroke-width="2"/>
<text x="1271.50" y="1142.00" text-anchor="start" font-size="24.00" fill="#262626" stroke="#262626" stroke-width="0.30">-1</text>
<line x1="1258.6" y1="1150.5" x2="1262.1" y2="1150.5" stroke="#d42a2a" stroke-width="2"/>
<line x1="1258.6" y1="1167.2" x2="1262.1" y2="1167.2" stroke="#d42a2a" stroke-width="2"/>
<line x1="1258.6" y1="1183.9" x2="1262.1" y2="1183.9" stroke="#d42a2a" stroke-width="2"/>
<line x1="1258.6" y1="1200.6" x2="1265.1" y2="1200.6" stroke="#d42a2a" stroke-width="2"/>
<text x="1271.50" y="1208.80" text-anchor="start" font-size="24.00" fill="#262626" stroke="#262626" stroke-width="0.30">-2</text>
<line x1="1258.6" y1="1217.3" x2="1262.1" y2="1217.3" stroke="#d42a2a" stroke-width="2"/>
<line x1="1258.6" y1="1234.0" x2="1262.1" y2="1234.0" stroke="#d42a2a" stroke-width="2"/>
<line x1="1258.6" y1="1250.7" x2="1262.1" y2="1250.7" stroke="#d42a2a" stroke-width="2"/>
<line x1="1258.6" y1="1267.4" x2="1265.1" y2="1267.4" stroke="#d42a2a" stroke-width="2"/>
<text x="1271.50" y="1275.60" text-anchor="start" font-size="24.00" fill="#262626" stroke="#262626" stroke-width="0.30">-3</text>
<line x1="1258.6" y1="1284.1" x2="1262.1" y2="1284.1" stroke="#d42a2a" stroke-width="2"/>
<line x1="1258.6" y1="1300.8" x2="1262.1" y2="1300.8" stroke="#d42a2a" stroke-width="2"/>
<line x1="1258.6" y1="1317.5" x2="1262.1" y2="1317.5" stroke="#d42a2a" stroke-width="2"/>
<line x1="1258.6" y1="1334.2" x2="1265.1" y2="1334.2" stroke="#d42a2a" stroke-width="2"/>
<text x="1271.50" y="1342.40" text-anchor="start" font-size="24.00" fill="#262626" stroke="#262626" stroke-width="0.30">-4</text>
<line x1="1258.6" y1="1350.9" x2="1262.1" y2="1350.9" stroke="#d42a2a" stroke-width="2"/>
<line x1="1258.6" y1="1367.6" x2="1262.1" y2="1367.6" stroke="#d42a2a" stroke-width="2"/>
<line x1="1258.6" y1="1384.3" x2="1262.1" y2="1384.3" stroke="#d42a2a" stroke-width="2"/>
<line x1="1258.6" y1="1401.0" x2="1265.1" y2="1401.0" stroke="#d42a2a" stroke-width="2"/>
<text x="1271.50" y="1409.20" text-anchor="start" font-size="24.00" fill="#262626" stroke="#262626" stroke-width="0.30">-5</text>
<line x1="1258.6" y1="1417.7" x2="1262.1" y2="1417.7" stroke="#d42a2a" stroke-width="2"/>
<line x1="1258.6" y1="1434.4" x2="1262.1" y2="1434.4" stroke="#d42a2a" stroke-width="2"/>
<line x1="1258.6" y1="1451.1" x2="1262.1" y2="1451.1" stroke="#d42a2a" stroke-width="2"/>
<line x1="1258.6" y1="1467.8" x2="1265.1" y2="1467.8" stroke="#d42a2a" stroke-width="2"/>
<text x="1271.50" y="1476.00" text-anchor="start" font-size="24.00" fill="#262626" stroke="#262626" stroke-width="0.30">-6</text>
<line x1="1258.6" y1="1484.5" x2="1262.1" y2="1484.5" stroke="#d42a2a" stroke-width="2"/>
<line x1="1258.6" y1="1501.2" x2="1262.1" y2="1501.2" stroke="#d42a2a" stroke-width="2"/>
<line x1="1258.6" y1="1517.9" x2="1262.1" y2="1517.9" stroke="#d42a2a" stroke-width="2"/>
<text x="52.84" y="853.98" text-anchor="start" font-size="23.02" fill="#262626" stroke="#262626" stroke-width="0.30" textLength="34.5" lengthAdjust="spacingAndGlyphs">TG</text>
<text x="52.92" y="877.64" text-anchor="start" font-size="22.00" fill="#262626" stroke="#262626" stroke-width="0.30" textLength="34.7" lengthAdjust="spacingAndGlyphs">(%)</text>
<text x="1135.64" y="857.00" text-anchor="start" font-size="22.97" fill="#262626" stroke="#262626" stroke-width="0.30" textLength="50.2" lengthAdjust="spacingAndGlyphs">DTA</text>
<text x="1115.14" y="881.15" text-anchor="start" font-size="22.42" fill="#262626" stroke="#262626" stroke-width="0.30" textLength="89.7" lengthAdjust="spacingAndGlyphs">(µV/mg)</text>
<text x="1227.47" y="856.98" text-anchor="start" font-size="22.60" fill="#262626" stroke="#262626" stroke-width="0.30" textLength="54.9" lengthAdjust="spacingAndGlyphs">DTG</text>
<text x="1211.60" y="881.86" text-anchor="start" font-size="23.40" fill="#262626" stroke="#262626" stroke-width="0.30" textLength="89.1" lengthAdjust="spacingAndGlyphs">(%/min)</text>
<text x="1120.23" y="920.08" text-anchor="start" font-size="22.09" fill="#262626" stroke="#262626" stroke-width="0.30" textLength="40.5" lengthAdjust="spacingAndGlyphs">exo</text>
<text x="1098.75" y="924.04" font-size="32.27" fill="#3c3c3c" textLength="14.51" lengthAdjust="spacingAndGlyphs">↑</text>
<text x="649.56" y="867.28" font-family="'Liberation Serif', 'Times New Roman', serif" font-weight="bold" font-size="33.19" fill="#111" textLength="40.98" lengthAdjust="spacingAndGlyphs">C2</text>
<path d="M82.2,1356.0 C90.7,1352.6 99.0,1349.5 107.8,1345.9 C117.2,1342.1 126.7,1337.6 136.8,1333.7 C147.5,1329.5 159.1,1325.8 170.2,1321.5 C181.3,1317.2 192.4,1312.6 203.5,1308.1 C214.6,1303.6 226.9,1298.8 236.9,1294.7 C245.1,1291.3 253.9,1285.8 259.2,1285.2 C262.0,1284.9 263.6,1286.5 265.9,1286.5 C268.4,1286.5 270.6,1286.3 273.6,1285.2 C278.7,1283.3 286.9,1277.3 292.6,1273.6 C297.5,1270.5 300.9,1267.6 305.9,1264.7 C311.8,1261.3 319.1,1257.8 326.0,1254.7 C333.2,1251.5 340.8,1248.4 348.2,1245.8 C355.4,1243.3 362.7,1241.5 370.0,1239.5 C377.4,1237.4 384.1,1235.3 392.3,1233.5 C402.2,1231.3 414.5,1229.8 425.6,1228.0 C436.7,1226.1 449.9,1223.2 459.0,1222.4 C465.2,1221.9 469.7,1221.6 474.6,1222.4 C479.3,1223.2 483.6,1224.5 488.0,1226.9 C493.2,1229.7 498.7,1234.7 503.5,1239.1 C508.3,1243.6 512.1,1250.0 516.9,1253.6 C521.1,1256.7 526.3,1260.5 530.2,1260.2 C533.6,1259.9 536.6,1257.2 539.2,1253.6 C543.6,1247.4 546.5,1232.5 548.9,1222.4 C551.1,1213.0 552.3,1202.8 553.5,1195.0 C554.4,1189.3 554.9,1186.1 555.5,1180.0 C556.5,1170.8 557.4,1154.2 558.3,1145.0 C558.9,1138.9 559.5,1134.8 560.1,1130.0 C560.6,1125.7 561.1,1121.5 561.7,1117.7 C562.2,1114.4 562.7,1111.8 563.2,1108.3 C563.8,1104.1 564.4,1098.8 565.1,1094.1 C565.8,1089.4 566.5,1085.6 567.3,1080.0 C568.4,1072.0 569.5,1060.1 571.0,1050.6 C572.4,1041.6 574.3,1033.2 575.9,1024.5 C577.5,1015.8 579.1,1006.1 580.8,998.4 C582.1,992.3 583.4,986.9 584.9,982.0 C586.2,977.8 587.3,974.5 589.0,970.6 C591.0,966.1 593.8,960.5 596.5,956.5 C598.7,953.1 601.0,950.5 603.6,947.8 C606.1,945.1 609.2,942.4 611.7,940.4 C613.7,938.8 615.4,937.4 617.4,936.3 C619.5,935.2 621.9,934.0 624.0,933.9 C625.7,933.8 627.3,934.5 628.9,935.1 C630.6,935.8 632.7,936.6 633.8,938.0 C634.9,939.4 634.5,941.9 635.4,943.7 C636.4,945.6 637.9,948.4 639.5,949.0 C640.9,949.5 642.8,948.7 644.4,947.8 C646.6,946.6 648.7,943.0 650.9,941.6 C652.7,940.5 655.0,939.4 656.6,939.6 C657.9,939.8 658.9,940.7 659.9,942.0 C661.6,944.2 662.7,948.7 664.0,952.7 C665.5,957.5 666.9,963.6 668.1,969.0 C669.3,974.4 670.3,980.0 671.3,985.3 C672.2,990.3 672.6,993.6 673.8,1000.0 C676.1,1012.3 680.3,1036.6 684.5,1053.5 C688.4,1069.1 693.7,1083.5 697.9,1098.0 C701.9,1111.7 705.9,1126.2 709.0,1138.0 C711.4,1147.3 712.8,1162.8 715.0,1163.0 C716.6,1163.1 718.4,1156.4 720.1,1151.4 C723.0,1143.2 725.5,1128.6 729.0,1118.0 C732.3,1107.9 736.0,1098.3 740.2,1089.1 C744.2,1080.2 749.4,1068.9 753.5,1063.5 C755.8,1060.5 757.8,1059.5 760.0,1057.4 C762.4,1055.2 765.8,1053.2 767.3,1050.4 C768.8,1047.6 768.1,1043.1 769.3,1040.7 C770.2,1038.9 771.3,1036.9 772.7,1036.7 C774.3,1036.5 776.7,1039.4 778.7,1040.7 C779.4,1036.3 779.8,1032.3 780.7,1027.4 C781.9,1021.2 783.9,1006.7 785.4,1006.7 C786.5,1006.7 787.8,1013.7 788.7,1018.0 C789.9,1023.4 790.5,1030.6 791.4,1036.7 C792.3,1042.4 792.8,1048.6 794.0,1053.4 C794.9,1057.2 796.0,1060.6 797.4,1063.4 C798.6,1065.7 799.8,1067.9 801.4,1069.4 C802.8,1070.7 804.5,1071.9 806.1,1072.1 C807.6,1072.3 809.3,1071.9 810.7,1071.1 C812.3,1070.1 813.3,1068.0 814.7,1066.1 C816.4,1063.6 818.3,1060.3 820.1,1057.4 C821.9,1054.5 823.8,1050.5 825.4,1048.7 C826.3,1047.7 827.2,1047.4 828.1,1046.7 C828.5,1043.4 828.9,1040.3 829.4,1036.7 C830.0,1032.6 830.6,1027.6 831.4,1023.4 C832.2,1019.4 832.9,1015.5 834.1,1012.0 C835.2,1008.9 836.5,1005.9 838.1,1003.4 C839.6,1001.1 841.4,999.0 843.4,997.3 C845.4,995.6 847.3,994.3 850.0,993.3 C853.4,992.0 858.3,991.7 862.6,991.2 C867.0,990.6 872.0,990.9 875.9,990.0 C879.2,989.2 881.5,987.5 884.8,986.7 C888.8,985.7 893.3,985.0 898.2,984.9 C904.2,984.8 912.2,985.7 918.2,986.7 C923.3,987.5 927.0,988.4 932.0,990.0 C938.1,992.0 945.9,996.2 952.1,998.1 C957.1,999.6 961.5,999.7 966.1,1001.1 C970.8,1002.5 975.0,1004.6 980.1,1006.5 C986.2,1008.8 993.8,1011.5 1000.1,1013.7 C1005.7,1015.7 1011.2,1017.8 1016.2,1019.1 C1020.4,1020.2 1024.0,1019.7 1028.2,1021.1 C1033.3,1022.7 1038.3,1025.9 1044.2,1029.1 C1051.9,1033.2 1062.2,1039.0 1070.2,1044.1 C1077.4,1048.7 1084.0,1053.7 1090.3,1058.1 C1095.9,1062.0 1101.2,1065.4 1106.3,1069.2 C1111.2,1072.8 1115.2,1076.2 1120.3,1080.2 C1126.4,1085.0 1134.1,1091.3 1140.3,1096.2 C1145.7,1100.5 1150.4,1104.2 1155.4,1108.2" fill="none" stroke="#4040b8" stroke-width="2.1" stroke-linejoin="round" stroke-linecap="round"/>
<path d="M82.2,1067.6 C84.8,1067.1 87.3,1066.1 90.0,1066.2 C92.9,1066.3 96.1,1068.5 98.9,1068.5 C101.3,1068.5 102.8,1067.0 105.6,1066.9 C110.5,1066.7 118.2,1068.9 125.6,1069.8 C134.6,1070.9 147.1,1072.2 155.9,1072.6 C162.6,1072.9 168.5,1073.8 173.7,1072.6 C178.2,1071.5 181.6,1068.4 185.6,1066.7 C189.5,1065.1 193.5,1063.6 197.5,1062.6 C201.4,1061.6 205.3,1061.2 209.3,1060.8 C213.2,1060.4 217.3,1059.8 221.2,1060.2 C225.2,1060.6 230.1,1062.0 233.1,1063.1 C235.1,1063.8 236.6,1064.5 237.8,1065.5 C238.8,1066.4 239.5,1067.0 240.2,1068.5 C241.6,1071.2 242.5,1076.8 243.8,1081.5 C245.3,1087.0 247.0,1093.8 248.5,1099.3 C249.8,1104.0 250.8,1108.8 252.1,1112.4 C253.0,1115.0 253.9,1118.9 255.0,1118.9 C256.2,1118.9 257.8,1113.9 259.2,1111.2 C260.8,1108.2 262.3,1104.7 263.9,1101.7 C265.4,1098.8 266.9,1096.1 268.7,1093.4 C270.5,1090.6 272.3,1087.6 274.6,1085.1 C277.0,1082.5 279.9,1079.9 282.9,1078.0 C285.8,1076.2 289.0,1074.9 292.4,1073.8 C296.1,1072.6 301.0,1071.9 304.3,1071.5 C306.5,1071.2 307.6,1071.3 310.0,1071.1 C314.0,1070.7 320.0,1069.5 326.0,1069.1 C333.8,1068.6 344.8,1068.2 352.7,1069.1 C359.1,1069.9 363.9,1071.9 370.0,1073.3 C377.0,1074.9 386.5,1076.9 392.3,1078.0 C395.9,1078.7 397.9,1079.5 401.2,1079.6 C405.2,1079.7 409.5,1077.8 414.5,1078.0 C421.0,1078.3 430.0,1080.0 436.8,1082.5 C443.3,1084.9 449.8,1089.2 454.6,1092.5 C458.2,1095.0 460.8,1097.2 463.5,1100.0 C466.4,1103.0 468.8,1105.4 471.3,1110.0 C475.6,1117.8 479.8,1132.2 483.5,1144.5 C487.7,1158.3 491.3,1173.8 494.6,1189.0 C498.0,1204.9 501.0,1222.5 503.5,1238.0 C505.7,1252.0 507.0,1264.2 509.1,1278.0 C511.3,1292.9 514.1,1308.0 516.4,1324.5 C519.0,1343.1 521.5,1366.1 523.9,1383.9 C525.9,1398.6 527.5,1413.0 529.8,1423.9 C531.4,1431.5 533.2,1443.1 535.0,1443.2 C536.2,1443.3 537.6,1438.6 538.7,1434.3 C541.3,1424.5 542.6,1400.8 544.6,1383.9 C546.6,1366.7 548.7,1347.1 550.6,1331.9 C552.1,1320.0 553.5,1312.6 554.7,1300.0 C556.5,1281.9 557.5,1255.7 559.2,1233.5 C560.9,1211.3 562.6,1186.8 564.7,1166.8 C566.4,1150.5 567.3,1130.4 570.3,1122.3 C571.6,1118.9 573.4,1115.6 574.8,1115.6 C576.1,1115.6 577.3,1118.9 578.5,1121.0 C580.0,1123.5 581.0,1126.1 582.7,1129.8 C585.5,1136.0 589.5,1148.4 593.4,1154.8 C596.2,1159.4 599.1,1161.7 602.3,1165.5 C606.1,1169.9 611.2,1174.6 614.8,1179.7 C618.3,1184.7 621.2,1189.7 623.7,1195.7 C626.6,1202.6 628.4,1211.3 630.8,1218.9 C633.1,1226.2 634.3,1235.8 637.9,1240.2 C640.3,1243.2 643.9,1243.4 646.8,1245.6 C650.1,1248.1 653.6,1254.7 656.6,1254.5 C659.5,1254.4 661.9,1249.1 664.6,1245.6 C668.1,1241.1 671.1,1233.8 675.3,1229.5 C679.0,1225.7 684.1,1223.8 687.8,1220.6 C691.2,1217.6 694.8,1214.2 696.7,1210.9 C698.2,1208.2 698.4,1205.4 699.3,1202.8 C700.2,1200.3 700.6,1198.3 702.0,1195.7 C704.0,1192.0 708.3,1183.5 710.9,1183.3 C712.6,1183.2 713.8,1187.0 715.4,1187.7 C716.8,1188.3 718.1,1187.1 719.8,1187.7 C722.7,1188.7 727.2,1192.2 730.5,1195.7 C734.5,1199.9 738.0,1206.1 741.2,1211.7 C744.5,1217.4 747.1,1223.3 750.1,1229.5 C753.4,1236.3 757.0,1242.8 760.1,1251.0 C764.1,1261.4 767.9,1275.4 771.1,1287.1 C774.1,1297.9 776.7,1307.7 778.9,1318.5 C781.2,1329.7 782.3,1343.1 784.4,1353.1 C786.1,1360.8 787.8,1368.2 789.9,1373.5 C791.4,1377.1 793.1,1379.2 794.7,1382.1 C796.3,1385.0 797.8,1387.4 799.4,1390.8 C801.5,1395.2 803.3,1401.3 805.6,1406.5 C808.0,1411.8 811.0,1422.0 813.5,1422.2 C815.1,1422.3 817.0,1418.8 818.2,1415.9 C820.1,1411.4 820.6,1404.7 821.4,1397.0 C822.7,1384.9 823.0,1366.7 823.7,1349.9 C824.5,1330.5 825.3,1306.5 826.1,1287.1 C826.8,1270.3 827.6,1258.6 828.4,1240.0 C829.5,1212.9 830.9,1164.8 831.9,1140.0 C832.5,1125.2 832.9,1116.1 833.6,1104.7 C834.3,1094.0 835.1,1083.9 835.9,1073.5 C841.1,1073.5 845.7,1074.0 851.4,1073.5 C858.7,1072.9 868.1,1069.8 875.9,1069.5 C882.9,1069.2 890.3,1071.3 896.0,1071.3 C900.2,1071.3 903.3,1070.2 907.1,1070.2 C911.2,1070.2 914.8,1070.8 920.0,1071.2 C927.9,1071.9 941.1,1073.8 950.1,1073.8 C957.4,1073.8 964.1,1073.1 970.1,1072.2 C975.2,1071.5 978.3,1069.8 984.1,1069.2 C993.3,1068.2 1007.2,1069.3 1020.2,1069.2 C1035.5,1069.1 1059.9,1068.1 1070.2,1068.8 C1074.9,1069.1 1076.8,1070.2 1080.3,1070.2 C1084.1,1070.2 1087.5,1069.0 1092.3,1068.8 C1099.7,1068.4 1110.7,1068.7 1120.3,1069.2 C1130.6,1069.8 1141.7,1071.2 1152.4,1072.2" fill="none" stroke="#d65050" stroke-width="2.0" stroke-linejoin="round" stroke-linecap="round"/>
<path d="M82.2,939.4 C100.4,940.0 120.0,940.8 136.8,941.2 C151.2,941.5 164.8,941.1 176.8,941.6 C186.6,942.0 193.6,942.7 203.5,943.4 C216.0,944.3 237.8,945.0 245.8,946.7 C249.1,947.4 249.9,948.0 252.5,949.0 C256.2,950.4 261.2,952.9 265.9,954.5 C270.8,956.2 275.7,958.0 281.4,959.0 C288.1,960.2 295.5,960.0 303.7,960.3 C313.7,960.7 326.0,960.9 337.1,961.2 C348.1,961.5 358.2,961.5 370.0,961.9 C383.7,962.4 399.7,962.9 414.5,964.1 C429.4,965.3 448.0,966.9 459.0,969.0 C465.6,970.3 469.7,971.3 474.6,973.4 C479.4,975.4 483.6,977.8 488.0,981.2 C493.2,985.3 498.8,991.0 503.5,996.8 C508.4,1002.8 513.0,1009.7 516.9,1016.8 C521.0,1024.1 524.3,1032.5 527.4,1040.0 C530.2,1046.9 532.5,1053.3 534.8,1060.0 C537.1,1066.6 539.2,1074.1 541.3,1080.0 C543.0,1084.7 544.4,1088.6 546.3,1092.6 C548.2,1096.4 550.6,1100.2 552.6,1103.5 C554.3,1106.4 555.7,1108.9 557.3,1111.4 C558.8,1113.8 560.3,1116.4 562.0,1118.3 C563.5,1120.0 565.1,1121.3 566.7,1122.4 C568.2,1123.4 569.6,1123.9 571.4,1124.6 C573.8,1125.6 577.1,1126.1 580.0,1127.4 C583.3,1128.8 586.5,1131.0 590.0,1133.0 C593.9,1135.3 597.9,1137.4 602.3,1140.5 C607.8,1144.4 614.8,1150.1 620.1,1154.8 C624.8,1159.0 628.5,1162.4 632.6,1167.2 C637.4,1172.8 641.8,1179.9 646.8,1186.8 C652.4,1194.6 659.0,1203.9 664.6,1211.7 C669.6,1218.6 674.8,1226.1 678.9,1231.3 C681.7,1234.8 683.6,1237.1 686.3,1240.0 C689.2,1243.1 692.6,1246.2 695.7,1249.4 C698.9,1252.7 701.4,1256.1 705.1,1259.6 C709.6,1263.9 715.4,1268.2 720.8,1273.0 C726.9,1278.4 733.9,1284.2 739.7,1290.3 C745.4,1296.3 750.5,1302.9 755.4,1309.1 C759.9,1314.9 764.0,1320.2 768.0,1326.4 C772.4,1333.2 776.5,1340.4 780.5,1348.4 C785.0,1357.5 789.0,1368.1 793.1,1378.2 C797.3,1388.5 801.6,1399.4 805.6,1409.6 C809.4,1419.3 813.0,1428.1 816.6,1437.9 C820.4,1448.4 823.9,1459.8 827.6,1470.8 C830.8,1471.2 833.2,1471.7 837.1,1472.1 C843.1,1472.7 850.0,1473.2 860.0,1473.7 C878.6,1474.7 906.9,1475.8 940.0,1476.7 C994.4,1478.1 1083.7,1478.9 1155.5,1480.0" fill="none" stroke="#2a822a" stroke-width="3.0" stroke-linejoin="round" stroke-linecap="round"/>
</svg></body></html>
